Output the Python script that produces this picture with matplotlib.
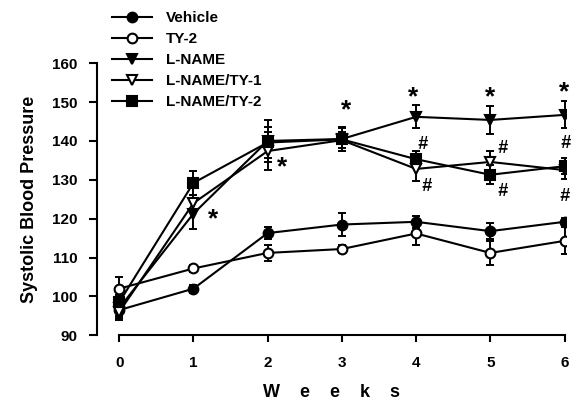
import matplotlib
matplotlib.use("Agg")
import matplotlib.pyplot as plt

plt.rcParams['font.family'] = ['Liberation Sans', 'DejaVu Sans']
plt.rcParams['font.weight'] = 'bold'

weeks = [0, 1, 2, 3, 4, 5, 6]
series_labels = ["Vehicle", "TY-2", "L-NAME", "L-NAME/TY-1", "L-NAME/TY-2"]
vehicle = [96.5, 102.0, 116.3, 118.5, 119.2, 116.8, 119.2]
ty2 = [102.0, 107.2, 111.2, 112.2, 116.2, 111.2, 114.3]
lname = [97.0, 121.3, 140.0, 140.5, 146.2, 145.4, 146.7]
lname_ty1 = [96.0, 124.0, 137.4, 140.2, 132.8, 134.6, 132.5]
lname_ty2 = [98.5, 129.2, 139.6, 140.4, 135.3, 131.3, 133.5]
vehicle_err = [1.5, 1.0, 1.5, 3.0, 1.5, 2.0, 1.0]
ty2_err = [3.0, 1.0, 2.0, 1.0, 3.0, 3.0, 3.5]
lname_err = [2.5, 4.0, 5.5, 3.0, 3.0, 3.5, 3.5]
lname_ty1_err = [2.0, 2.0, 4.8, 2.0, 3.0, 2.8, 2.3]
lname_ty2_err = [2.0, 3.0, 4.0, 3.0, 2.0, 2.5, 2.0]

star_pos = [(1.27, 119.8), (2.2, 133.2), (3.06, 148.0), (3.96, 151.3), (5.0, 151.3), (5.99, 152.5)]
hash_pos = [(4.09, 139.0), (4.14, 128.2), (5.16, 138.0), (5.16, 127.0), (6.01, 139.3), (6.0, 125.6)]

fig = plt.figure(figsize=(5.77, 4.05), dpi=100)
ax = fig.add_axes([0.168, 0.172, 0.813, 0.672])

styles = [
    (vehicle, vehicle_err, dict(marker='o', mfc='black', mec='black')),
    (ty2, ty2_err, dict(marker='o', mfc='white', mec='black')),
    (lname, lname_err, dict(marker='v', mfc='black', mec='black')),
    (lname_ty1, lname_ty1_err, dict(marker='v', mfc='white', mec='black')),
    (lname_ty2, lname_ty2_err, dict(marker='s', mfc='black', mec='black')),
]
handles = []
for (vals, errs, st), lab in zip(styles, series_labels):
    ax.errorbar(weeks, vals, yerr=errs, color='black', ecolor='black', elinewidth=1.4,
                capsize=3, capthick=1.4, lw=0, zorder=2)
    h, = ax.plot(weeks, vals, color='black', lw=1.5, ms=7, mew=1.5, label=lab, zorder=3, **st)
    handles.append(h)

for x, y in star_pos:
    ax.text(x, y, '*', ha='center', va='center', fontsize=19, fontweight='bold')
for x, y in hash_pos:
    ax.text(x, y, '#', ha='center', va='center', fontsize=13, fontweight='bold', style='italic')

ax.set_xlim(-0.3, 6.02)
ax.set_ylim(90, 160)
ax.spines['top'].set_visible(False)
ax.spines['right'].set_visible(False)
ax.spines['left'].set_bounds(90, 160)
ax.spines['bottom'].set_bounds(0, 6)
for s in ('left', 'bottom'):
    ax.spines[s].set_linewidth(1.5)
ax.set_xticks(weeks)
ax.set_yticks(range(90, 161, 10))
ax.tick_params(axis='y', direction='out', length=6, width=1.5, labelsize=11, pad=8)
ax.tick_params(axis='x', direction='out', length=5, width=1.5, labelsize=11, pad=10)
for lbl in ax.get_xticklabels() + ax.get_yticklabels():
    lbl.set_fontweight('bold')

ax.set_xlabel('W    e    e    k    s', fontsize=13, fontweight='bold', labelpad=10)
ax.set_ylabel('Systolic Blood Pressure', fontsize=13, fontweight='bold', labelpad=10)

leg = ax.legend(handles=handles, loc='upper left', bbox_to_anchor=(0.02, 1.213), frameon=False,
                fontsize=11, handlelength=2.6, handletextpad=0.9, labelspacing=0.46,
                borderaxespad=0)
for t in leg.get_texts():
    t.set_fontweight('bold')

fig.savefig('out.png', dpi=100)
